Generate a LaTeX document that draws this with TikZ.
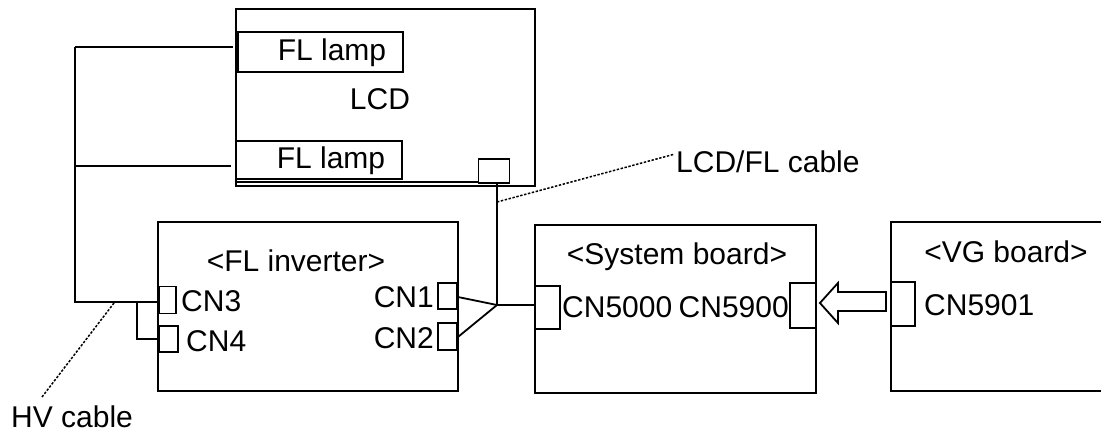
\documentclass[tikz,border=0pt]{standalone}
\usepackage{fontspec}
\setmainfont{Liberation Sans}
\usetikzlibrary{calc}

\tikzset{
  part/.style={draw, line width=1.9pt, inner sep=0pt, rectangle},
  wire/.style={line width=1.8pt},
  leader/.style={line width=1.5pt, dash pattern=on 2.4pt off 1.6pt},
  lbl/.style={inner sep=0pt, font=\fontsize{30}{32}\selectfont},
}

\begin{document}
\begin{tikzpicture}[x=1pt, y=-1pt]
\clip (0,0) rectangle (1101,434);
\fill[white] (0,0) rectangle (1101,434);

% LCD panel with its two lamps and the panel connector
\node[part, minimum width=299pt, minimum height=177pt] (lcd) at (385.5,97.5) {};
\node[part, minimum width=165pt, minimum height=40pt] (lamp1) at (320.5,52) {};
\node[part, minimum width=166pt, minimum height=38pt] (lamp2) at (319,160) {};
\node[part, minimum width=31pt, minimum height=24pt] (lcdcon) at (494,171) {};
\draw[line width=1.3pt] (lcd.south west) ++(0,-5) coordinate (ll) -- (ll -| lcdcon.west);
\node[lbl, anchor=base] (lamp1t) at (332,60) {FL lamp};
\node[lbl, anchor=base] (lamp2t) at (331,168) {FL lamp};
\node[lbl, anchor=base] (lcdt) at (380,109) {LCD};

% FL inverter
\node[part, minimum width=300pt, minimum height=169pt] (inv) at (308,306.5) {};
\node[part, minimum width=17pt, minimum height=27pt] (cn3) at (167.5,300) {};
\node[part, minimum width=19pt, minimum height=26pt] (cn4) at (168.5,339) {};
\node[part, minimum width=19pt, minimum height=26pt] (cn1) at (447.5,296) {};
\node[part, minimum width=19pt, minimum height=27pt] (cn2) at (447.5,336.5) {};
\node[lbl, anchor=base] (invt) at (296,271) {<FL inverter>};
\node[lbl, anchor=base west] (cn3t) at (181,311) {CN3};
\node[lbl, anchor=base west] (cn4t) at (186,351) {CN4};
\node[lbl, anchor=base east] (cn1t) at (434,307) {CN1};
\node[lbl, anchor=base east] (cn2t) at (434,348) {CN2};

% System board
\node[part, minimum width=281pt, minimum height=168pt] (sys) at (675.5,309) {};
\node[part, minimum width=25pt, minimum height=43pt] (cn5000) at (547.5,307.5) {};
\node[part, minimum width=26pt, minimum height=45pt] (cn5900) at (803,305.5) {};
\node[lbl, anchor=base] (syst) at (677,264) {<System board>};
\node[lbl, anchor=base west] (cn5000t) at (562,317) {CN5000};
\node[lbl, anchor=base east] (cn5900t) at (789,317) {CN5900};

% VG board
\node[part, minimum width=230pt, minimum height=169pt] (vg) at (1006,306.5) {};
\node[part, minimum width=24pt, minimum height=44pt] (cn5901) at (903,304) {};
\node[lbl, anchor=base] (vgt) at (1006,262) {<VG board>};
\node[lbl, anchor=base west] (cn5901t) at (924,315) {CN5901};

% signal arrow from the VG board to the system board
\draw[line width=1.8pt, line join=miter]
  ($(cn5900.east)+(3,-2.5)$) coordinate (tip)
  -- ++(18,-20) -- ++(0,9) -- ++(48,0) -- ++(0,19) -- ++(-48,0) -- ++(0,12) -- cycle;

% LCD/FL cable: panel connector and inverter connectors meet at one junction
\coordinate (jct) at (497,305);
\draw[wire] (jct |- lcdcon.south) -- (jct);
\draw[wire] ($(cn1.east)+(0,1)$) -- (jct);
\draw[wire] ($(cn2.east)+(0,0.5)$) -- (jct);
\draw[wire] (jct) -- (jct -| cn5000.west);

% HV cable from the inverter to both lamps
\coordinate (wtop) at (75,47);
\coordinate (wmid) at (75,166);
\coordinate (wbot) at (75,302);
\coordinate (br) at (137,302);
\draw[wire] (wtop) -- (wbot) -- (wbot -| cn3.west);
\draw[wire, shorten >=4pt] (wtop) -- (wtop -| lamp1.west);
\draw[wire, shorten >=4pt] (wmid) -- (wmid -| lamp2.west);
\draw[wire] (br) -- (br |- cn4.west) -- (cn4.west);

% cable callouts
\node[lbl, anchor=base west] (lcdflt) at (676,172) {LCD/FL cable};
\coordinate (lcdfla) at (497,202);
\draw[leader] (lcdfla) -- ($(lcdflt.west)+(-2,-7)$);
\node[lbl, anchor=base west] (hvt) at (11,427) {HV cable};
\coordinate (hva) at (114,303);
\draw[leader] (hva) -- (42,397);
\end{tikzpicture}
\end{document}
